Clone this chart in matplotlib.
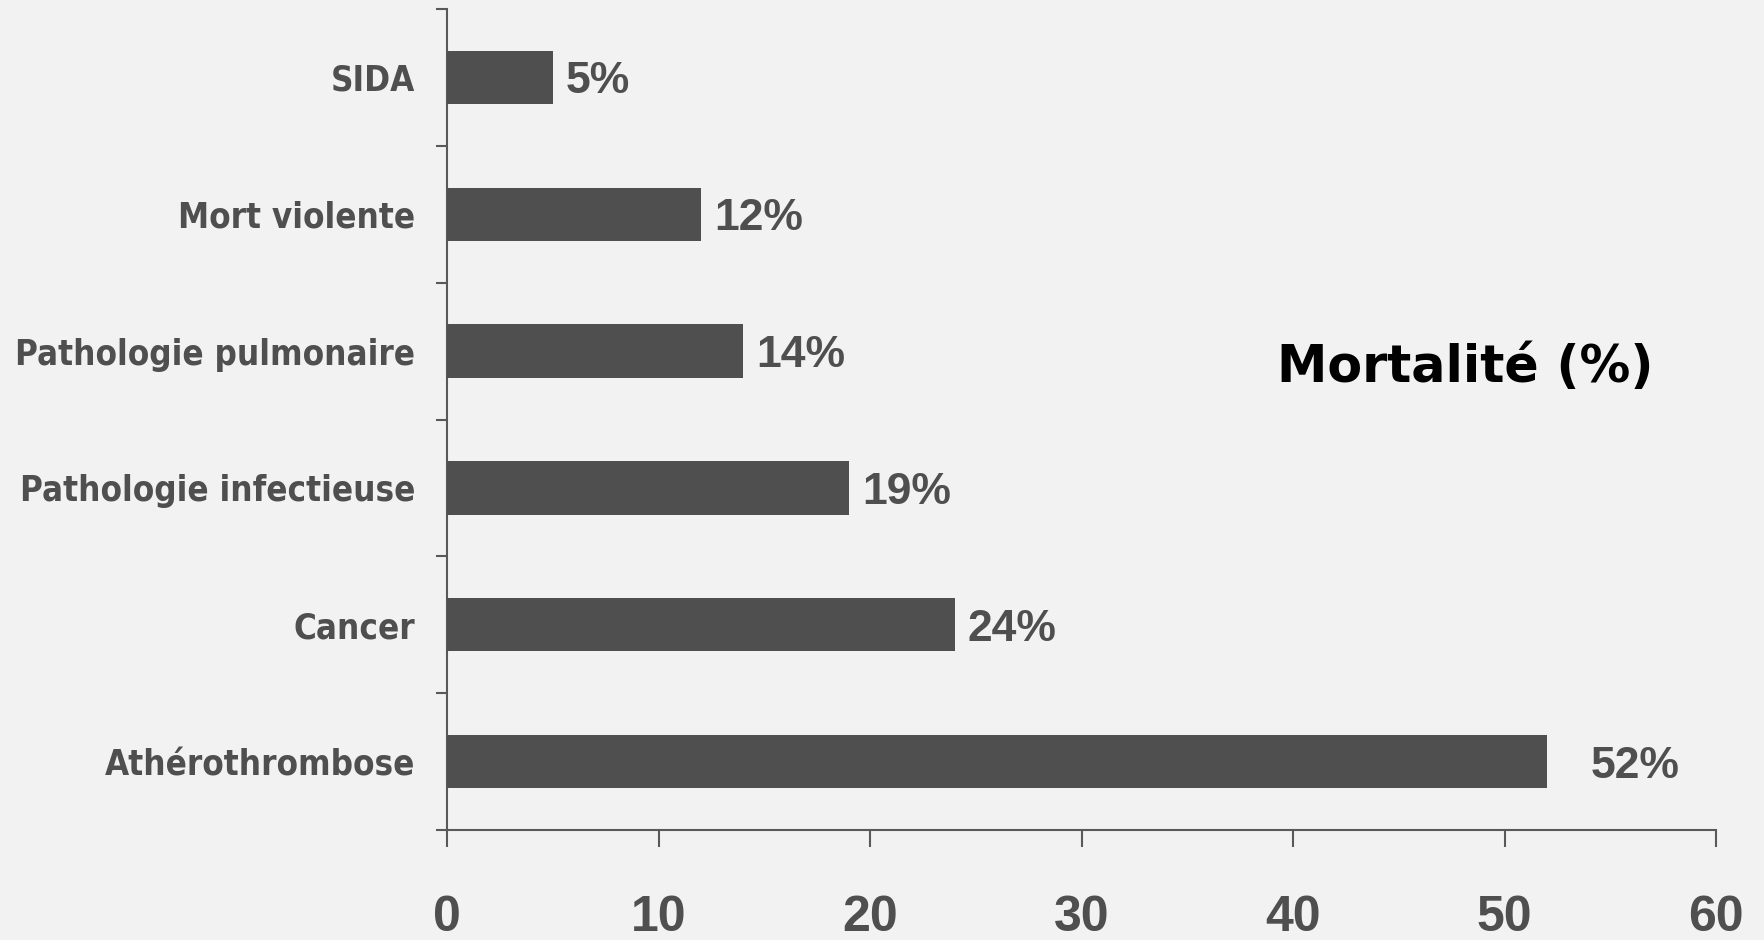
import matplotlib
matplotlib.use("Agg")
import matplotlib.pyplot as plt
from matplotlib.ticker import FixedLocator

categories = ["Athérothrombose", "Cancer", "Pathologie infectieuse",
              "Pathologie pulmonaire", "Mort violente", "SIDA"]
values = [52, 24, 19, 14, 12, 5]
value_labels = ["52%", "24%", "19%", "14%", "12%", "5%"]
x_ticks = [0, 10, 20, 30, 40, 50, 60]
title_text = "Mortalité (%)"

BG = "#f2f2f2"
BAR = "#4f4f4f"
TXT = "#4f4f4f"
SPINE = "#595959"

fig = plt.figure(figsize=(17.64, 9.40), dpi=100, facecolor=BG)
ax = fig.add_axes([447/1764, 1 - 830/940, (1716 - 447)/1764, (830 - 9)/940])
ax.set_facecolor(BG)

ypos = list(range(len(categories)))
ax.barh(ypos, values, height=0.39, color=BAR, zorder=3)

ax.set_xlim(0, 60)
ax.set_ylim(-0.5, len(categories) - 0.5)

for s in ["top", "right"]:
    ax.spines[s].set_visible(False)
for s in ["left", "bottom"]:
    ax.spines[s].set_color(SPINE)
    ax.spines[s].set_linewidth(1.5)

# x axis
ax.set_xticks(x_ticks)
ax.set_xticklabels([str(v) for v in x_ticks])
ax.tick_params(axis="x", direction="out", length=12.5, width=1.5, color=SPINE,
               pad=34, labelsize=36, labelcolor=TXT)
for lab in ax.get_xticklabels():
    lab.set_fontfamily("Liberation Sans")
    lab.set_fontweight("bold")

# y axis: labels at centers, tick marks at boundaries
ax.set_yticks(ypos)
ax.set_yticklabels(categories)
ax.yaxis.set_minor_locator(FixedLocator([i - 0.5 for i in range(len(categories) + 1)]))
ax.tick_params(axis="y", which="major", length=0, pad=23, labelsize=25, labelcolor=TXT)
ax.tick_params(axis="y", which="minor", direction="out", length=8, width=1.5, color=SPINE)
for lab in ax.get_yticklabels():
    lab.set_fontfamily("DejaVu Sans")
    lab.set_fontweight("bold")
    lab.set_fontstretch("condensed")

# value labels
for y, v, t in zip(ypos, values, value_labels):
    off = 44 if v > 40 else 13
    ax.annotate(t, xy=(v, y), xytext=(off, -16), textcoords="offset pixels",
                ha="left", va="baseline", fontsize=32, fontweight="bold",
                family="Liberation Sans", color=TXT, zorder=4)

fig.text(1465/1764, 1 - 382/940, title_text, ha="center", va="baseline",
         fontsize=36.5, fontweight="bold", family="DejaVu Sans", color="black")

fig.savefig("out.png", dpi=100, facecolor=BG)
